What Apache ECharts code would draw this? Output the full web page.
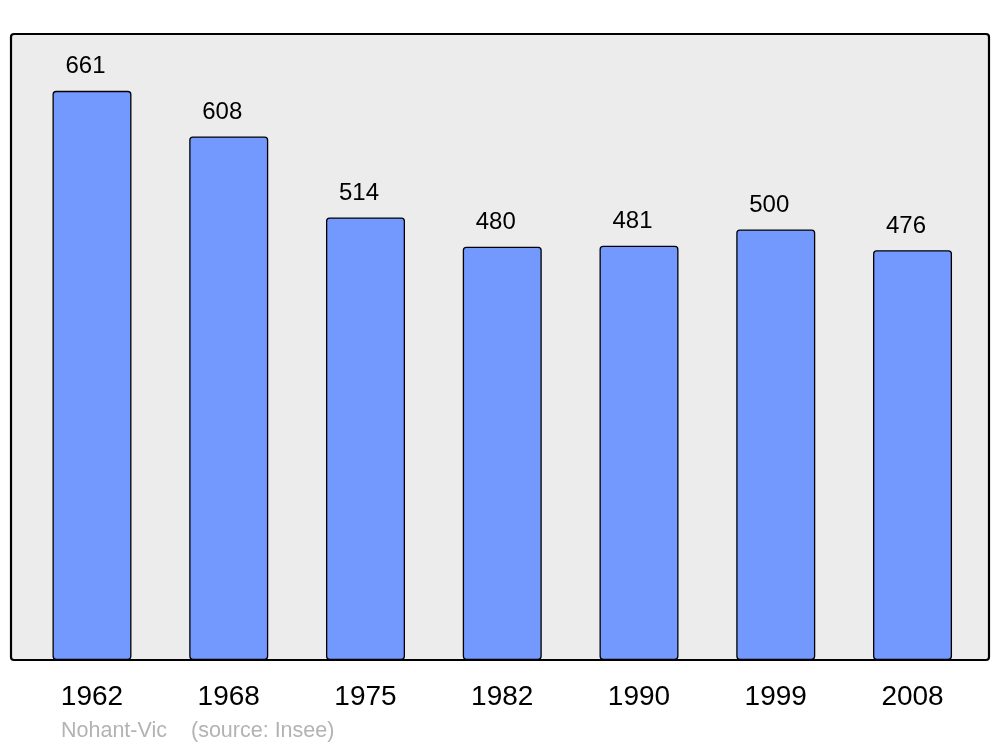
<!DOCTYPE html>
<html>
<head>
<meta charset="utf-8">
<script src="https://cdn.jsdelivr.net/npm/echarts@6/dist/echarts.min.js"></script>
<style>html,body{margin:0;padding:0;background:#fff;}#c{width:1000px;height:747px;}</style>
</head>
<body>
<div id="c"></div>
<script>
const years = ['1962', '1968', '1975', '1982', '1990', '1999', '2008'];
const population = [661, 608, 514, 480, 481, 500, 476];
const commune = 'Nohant-Vic';
const source = '(source: Insee)';

const chart = echarts.init(document.getElementById('c'), null, {renderer: 'canvas'});
const FONT = '"Liberation Sans", Arial, sans-serif';
chart.setOption({
  animation: false,
  backgroundColor: '#ffffff',
  grid: {left: 23.6, right: 19.1, top: 34, bottom: 87, containLabel: false},
  graphic: [
    {type: 'rect', z: 0, shape: {x: 11, y: 34, width: 978, height: 626, r: 3},
     style: {fill: '#ececec', stroke: '#000000', lineWidth: 2.2}},
    {type: 'text', z: 10, left: 61, top: 720,
     style: {text: commune, fill: '#b3b3b3', font: '21.5px ' + FONT}},
    {type: 'text', z: 10, left: 191, top: 720,
     style: {text: source, fill: '#b3b3b3', font: '21.5px ' + FONT}}
  ],
  xAxis: {
    type: 'category', data: years,
    axisLine: {show: false}, axisTick: {show: false},
    axisLabel: {color: '#000', fontSize: 28, fontFamily: FONT, margin: 23}
  },
  yAxis: {
    type: 'value', min: 0, max: 727,
    show: false, splitLine: {show: false}
  },
  series: [{
    type: 'bar', data: population, barWidth: 79, z: 2,
    itemStyle: {color: '#7399ff', borderColor: '#000000', borderWidth: 1.3, borderRadius: 3},
    label: {show: true, position: 'top', distance: 12, offset: [-6.5, 0], color: '#000', fontSize: 24, fontFamily: FONT}
  }]
});
</script>
</body>
</html>
